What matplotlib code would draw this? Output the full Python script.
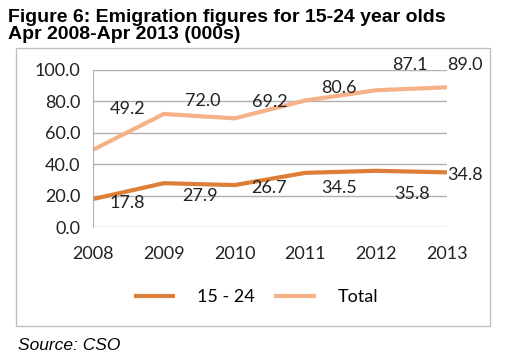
import matplotlib.pyplot as plt
from matplotlib.patches import Rectangle

years = [2008, 2009, 2010, 2011, 2012, 2013]
youth = [17.8, 27.9, 26.7, 34.5, 35.8, 34.8]
total = [49.2, 72.0, 69.2, 80.6, 87.1, 89.0]

# label offsets in points (Excel places them a bit arbitrarily)
youth_off = [(25, -3), (26, -9), (25, -2), (24, -11), (26, -17), (13, -2)]
total_off = [(25, 29), (28, 9), (25, 12), (24, 9), (24, 18), (13, 16)]

c_youth = '#DD7F37'
c_total = '#F7B189'

plt.rcParams['font.family'] = ['Lato', 'DejaVu Sans']

fig = plt.figure(figsize=(5.12, 3.54), dpi=100)
fig.patch.set_facecolor('white')

# outer chart frame
fig.patches.append(Rectangle((16 / 512, 1 - 326 / 354), 474 / 512, 278 / 354,
                             transform=fig.transFigure, fill=False,
                             edgecolor='#BFBFBF', linewidth=1.0))

fig.text(8 / 512, 1 - 9 / 354, 'Figure 6: Emigration figures for 15-24 year olds\nApr 2008-Apr 2013 (000s)',
         family='Liberation Sans', fontweight='bold', fontsize=14, va='top', ha='left',
         linespacing=1.0)
fig.text(18 / 512, 1 - 346 / 354, 'Source: CSO', family='Liberation Sans', style='italic',
         fontsize=12.5, va='center', ha='left')

ax = fig.add_axes([93 / 512, 1 - 227 / 354, 354 / 512, 157 / 354])
ax.plot(years, youth, color=c_youth, linewidth=3, label='15 - 24', solid_capstyle='butt')
ax.plot(years, total, color=c_total, linewidth=3, label='Total', solid_capstyle='butt')

for x, y, off in zip(years, youth, youth_off):
    ax.annotate(f'{y:.1f}', (x, y), xytext=off, textcoords='offset points',
                ha='center', va='center', fontsize=13, color='#222222')
for x, y, off in zip(years, total, total_off):
    ax.annotate(f'{y:.1f}', (x, y), xytext=off, textcoords='offset points',
                ha='center', va='center', fontsize=13, color='#222222')

ax.set_xlim(2008, 2013)
ax.set_ylim(0, 100)
ax.set_yticks(range(0, 101, 20))
ax.set_yticklabels([f'{v:.1f}' for v in range(0, 101, 20)])
ax.set_xticks(years)
ax.grid(axis='y', color='#B0B0B0', linewidth=1.0)
ax.set_axisbelow(True)
for s in ['top', 'right', 'bottom']:
    ax.spines[s].set_visible(False)
ax.spines['left'].set_color('#B0B0B0')
ax.tick_params(length=0, labelsize=13, colors='#222222')
ax.tick_params(axis='x', pad=14)
ax.tick_params(axis='y', pad=9)
ax.set_facecolor('none')

fig.legend(loc='center', bbox_to_anchor=(256 / 512, 1 - 297 / 354), ncol=2, frameon=False,
           fontsize=13, handlelength=2.3, columnspacing=1.1, handletextpad=1.2)

fig.savefig('out.png', dpi=100)
